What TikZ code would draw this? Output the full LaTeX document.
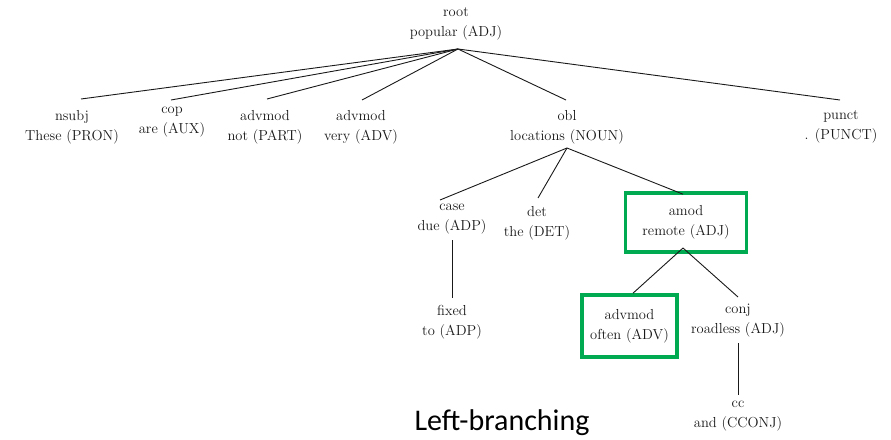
\documentclass[tikz,border=0pt]{standalone}
\usepackage{fontspec}
\newfontfamily\titlefont{Carlito}
\usetikzlibrary{calc}
\definecolor{hlgreen}{RGB}{0,170,80}
\definecolor{ink}{RGB}{25,25,25}
\tikzset{
  lbl/.style={align=center, font=\fontsize{14.5}{20}\selectfont, inner sep=1pt, text=ink},
  conn/.style={draw=ink, line width=0.9pt},
  hlbox/.style={lbl, draw=hlgreen, line width=3.6pt}
}
\begin{document}
\begin{tikzpicture}[x=1pt,y=-1pt]
\useasboundingbox (0,0) rectangle (891,439);
% level 0
\node[lbl] (root) at (456,24) {root\\popular (ADJ)};
% level 1
\node[lbl] (nsubj) at (72,127) {nsubj\\These (PRON)};
\node[lbl] (cop) at (172,122) {cop\\are (AUX)};
\node[lbl] (advnot) at (265,127) {advmod\\not (PART)};
\node[lbl] (advvery) at (361,127) {advmod\\very (ADV)};
\node[lbl] (obl) at (567,127) {obl\\locations (NOUN)};
\node[lbl] (punct) at (841,127) {punct\\. (PUNCT)};
% level 2
\node[lbl] (case) at (452,219) {case\\due (ADP)};
\node[lbl] (det) at (537,223) {det\\the (DET)};
\node[hlbox, minimum width=121pt, minimum height=59pt] (amod) at (686,222.5) {amod\\remote (ADJ)};
% level 3
\node[lbl] (fixed) at (452,322) {fixed\\to (ADP)};
\node[hlbox, minimum width=95pt, minimum height=62pt] (advoften) at (629.5,326) {advmod\\often (ADV)};
\node[lbl] (conj) at (738,321) {conj\\roadless (ADJ)};
% level 4
\node[lbl] (cc) at (738,416) {cc\\and (CCONJ)};
% title
\node[font=\titlefont\fontsize{30}{34}\selectfont, text=black, inner sep=0pt] (title) at (502,423) {Left-branching};
% connector end points
\coordinate (rootB) at ($(root.center)+(2,25)$);
\coordinate (oblB) at ($(obl.center)+(0,21)$);
\coordinate (caseB) at ($(case.center)+(0,21)$);
\coordinate (amodB) at ($(amod.center)+(-3,25.5)$);
\coordinate (conjB) at ($(conj.center)+(0,22)$);
% connectors
\draw[conn] (rootB) -- ($(nsubj.center)+(9,-28)$);
\draw[conn] (rootB) -- ($(cop.center)+(-1,-22)$);
\draw[conn] (rootB) -- ($(advnot.center)+(2,-28)$);
\draw[conn] (rootB) -- ($(advvery.center)+(1,-27)$);
\draw[conn] (rootB) -- ($(obl.center)+(-1,-27)$);
\draw[conn] (rootB) -- ($(punct.center)+(-1,-27)$);
\draw[conn] (oblB) -- ($(case.center)+(-12,-19)$);
\draw[conn] (oblB) -- ($(det.center)+(1,-25)$);
\draw[conn] (oblB) -- ($(amod.north)+(-3,3)$);
\draw[conn] (caseB) -- ($(fixed.center)+(0,-24)$);
\draw[conn] (amodB) -- ($(advoften.north)+(3.5,0)$);
\draw[conn] (amodB) -- ($(conj.center)+(0,-24)$);
\draw[conn] (conjB) -- ($(cc.center)+(0,-21)$);
\end{tikzpicture}
\end{document}
